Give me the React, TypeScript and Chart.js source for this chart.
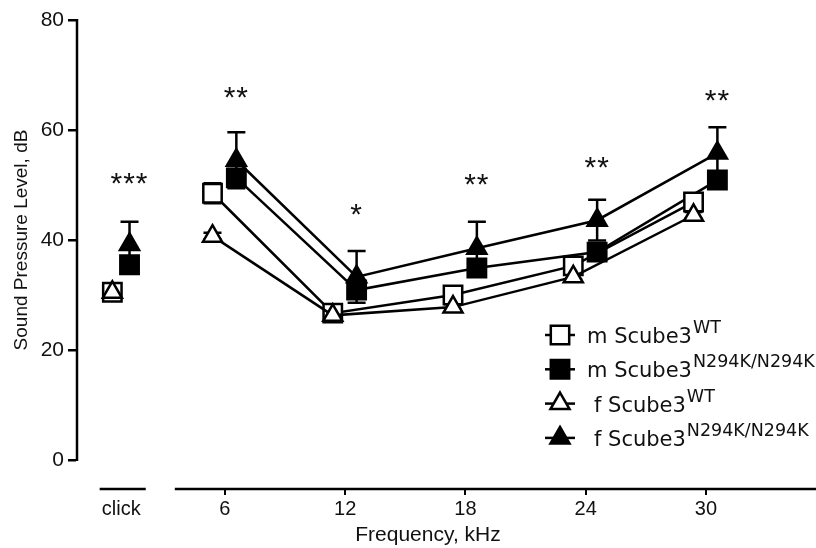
import React, { useEffect, useRef } from 'react';
import { Chart, registerables } from 'chart.js';

Chart.register(...registerables);

// ---------- data ----------
const categories = ['click', '6', '12', '18', '24', '30'];
const xPositions = [0.83, 6, 12, 18, 24, 30]; // position on the kHz axis ("click" sits left of the break)
const yTickValues = [0, 20, 40, 60, 80];

const mWT = [30.5, 48.5, 26.7, 30.0, 35.3, 46.9];
const mWTErr = [0.8, 1.8, 0.8, 0.8, 0.8, 1.0];
const mMut = [35.5, 51.3, 30.9, 34.9, 37.8, 50.9];
const mMutErr = [1.0, 1.6, 1.5, 1.0, 1.0, 1.5];
const fWT = [30.5, 40.7, 26.3, 27.8, 33.3, 44.5];
const fWTErr = [0.5, 0.6, 0.5, 0.5, 0.5, 0.6];
const fMut = [39.2, 54.5, 33.3, 38.5, 43.6, 55.8];
const fMutErr = [4.1, 5.1, 4.7, 4.8, 3.7, 4.7];

const sigMarks = ['***', '**', '*', '**', '**', '**'];
const sigLevels = [50.7, 66.4, 45.1, 50.5, 53.6, 65.8];

const seriesNames = ['m Scube3', 'm Scube3', 'f Scube3', 'f Scube3'];
const seriesSup = ['WT', 'N294K/N294K', 'WT', 'N294K/N294K'];

// ---------- style ----------
const WT_SHIFT = -0.62;
const MUT_SHIFT = 0.57;
const CLICK_SHIFT_FACTOR = 0.72;
const X_MIN = -1.43;
const X_MAX = 35.49;
const Y_MIN = -5.27;
const Y_MAX = 80;
const AX_FONT = '"Liberation Sans", Arial, sans-serif';
const LEG_FONT = '"DejaVu Sans", Verdana, sans-serif';
const INK = '#000';
const LW = 2.5;
const SQ_R = 13;
const TRI_R = 11;

const shiftAt = (i: number, s: number) => (i === 0 ? s * CLICK_SHIFT_FACTOR : s);

function makeSet(label: string, values: number[], errs: number[], shift: number, style: string, fill: string, order: number) {
  return {
    label,
    data: values.map((v, i) => ({ x: xPositions[i] + shiftAt(i, shift), y: v })),
    errors: errs,
    borderColor: INK,
    borderWidth: LW,
    pointStyle: style,
    pointRadius: style === 'rect' ? SQ_R : TRI_R,
    pointHoverRadius: style === 'rect' ? SQ_R : TRI_R,
    pointBackgroundColor: fill,
    pointBorderColor: INK,
    pointBorderWidth: LW,
    fill: false,
    tension: 0,
    order,
    segment: {
      borderColor: (ctx: any) => (ctx.p0DataIndex === 0 ? 'rgba(0,0,0,0)' : INK),
    },
  };
}

function drawMarker(ctx: CanvasRenderingContext2D, style: string, x: number, y: number, fill: string) {
  ctx.save();
  ctx.beginPath();
  if (style === 'rect') {
    const s = Math.SQRT1_2 * SQ_R;
    ctx.rect(x - s, y - s, 2 * s, 2 * s);
  } else {
    const r = TRI_R;
    ctx.moveTo(x, y - r);
    ctx.lineTo(x + 0.866 * r, y + 0.5 * r);
    ctx.lineTo(x - 0.866 * r, y + 0.5 * r);
    ctx.closePath();
  }
  ctx.fillStyle = fill;
  ctx.fill();
  ctx.lineWidth = LW;
  ctx.strokeStyle = INK;
  ctx.stroke();
  ctx.restore();
}

const errorBarPlugin = {
  id: 'errorBars',
  beforeDatasetsDraw(chart: any) {
    const { ctx, scales } = chart;
    const x = scales.x, y = scales.y;
    ctx.save();
    ctx.strokeStyle = INK;
    ctx.lineWidth = LW;
    chart.data.datasets.forEach((ds: any) => {
      ds.data.forEach((p: any, i: number) => {
        const e = ds.errors[i];
        const px = x.getPixelForValue(p.x);
        const t = y.getPixelForValue(p.y + e);
        const b = y.getPixelForValue(p.y - e);
        ctx.beginPath();
        ctx.moveTo(px, t);
        ctx.lineTo(px, b);
        ctx.moveTo(px - 9, t);
        ctx.lineTo(px + 9, t);
        ctx.moveTo(px - 9, b);
        ctx.lineTo(px + 9, b);
        ctx.stroke();
      });
    });
    ctx.restore();
  },
};

const decorPlugin = {
  id: 'decor',
  afterDraw(chart: any) {
    const { ctx, scales, chartArea } = chart;
    const x = scales.x, y = scales.y;
    ctx.save();
    ctx.strokeStyle = INK;
    ctx.lineWidth = LW;
    // y axis line from 0 to 80
    const ax = chartArea.left + 1;
    ctx.beginPath();
    ctx.moveTo(ax, y.getPixelForValue(0) + 1);
    ctx.lineTo(ax, y.getPixelForValue(80) - 1);
    ctx.stroke();
    // broken x axis
    const by = chartArea.bottom;
    ctx.beginPath();
    ctx.moveTo(x.getPixelForValue(-0.25), by);
    ctx.lineTo(x.getPixelForValue(2.05), by);
    ctx.moveTo(x.getPixelForValue(3.5), by);
    ctx.lineTo(x.getPixelForValue(X_MAX), by);
    ctx.stroke();

    // axis titles
    ctx.fillStyle = '#111';
    ctx.font = `21px ${AX_FONT}`;
    ctx.textAlign = 'center';
    ctx.textBaseline = 'middle';
    ctx.fillText('Frequency, kHz', 428, 535);
    ctx.save();
    ctx.translate(22, y.getPixelForValue(40));
    ctx.rotate(-Math.PI / 2);
    ctx.font = `19px ${AX_FONT}`;
    ctx.fillText('Sound Pressure Level, dB', 0, 0);
    ctx.restore();

    // significance marks
    ctx.fillStyle = '#111';
    ctx.font = `30px ${AX_FONT}`;
    (ctx as any).letterSpacing = '1px';
    ctx.textAlign = 'center';
    ctx.textBaseline = 'alphabetic';
    sigMarks.forEach((m, i) => {
      const px = x.getPixelForValue(xPositions[i] + shiftAt(i, MUT_SHIFT));
      const py = y.getPixelForValue(sigLevels[i]) + 12;
      ctx.fillText(m, px, py);
    });
    (ctx as any).letterSpacing = '0px';

    // legend
    const styles = ['rect', 'rect', 'triangle', 'triangle'];
    const fills = ['#fff', INK, '#fff', INK];
    const textX = [587, 587, 594, 594];
    ctx.textAlign = 'left';
    ctx.textBaseline = 'alphabetic';
    for (let i = 0; i < 4; i++) {
      const ry = 335 + i * 34.3;
      ctx.beginPath();
      ctx.lineWidth = LW;
      ctx.moveTo(545, ry);
      ctx.lineTo(575, ry);
      ctx.stroke();
      drawMarker(ctx, styles[i], 560, ry, fills[i]);
      ctx.fillStyle = '#111';
      ctx.font = `21px ${LEG_FONT}`;
      const base = ry + 8;
      ctx.fillText(seriesNames[i], textX[i], base);
      const w = ctx.measureText(seriesNames[i]).width;
      ctx.font = `17.5px ${LEG_FONT}`;
      ctx.fillText(seriesSup[i], textX[i] + w + 1, base - 10);
    }
    ctx.restore();
  },
};

export default function App() {
  const ref = useRef<HTMLCanvasElement | null>(null);

  useEffect(() => {
    if (!ref.current) return;
    const chart = new Chart(ref.current, {
      type: 'line',
      data: {
        datasets: [
          makeSet(seriesNames[0] + seriesSup[0], mWT, mWTErr, WT_SHIFT, 'rect', '#fff', 2),
          makeSet(seriesNames[1] + seriesSup[1], mMut, mMutErr, MUT_SHIFT, 'rect', INK, 2),
          makeSet(seriesNames[2] + seriesSup[2], fWT, fWTErr, WT_SHIFT, 'triangle', '#fff', 1),
          makeSet(seriesNames[3] + seriesSup[3], fMut, fMutErr, MUT_SHIFT, 'triangle', INK, 1),
        ] as any,
      },
      options: {
        animation: false,
        responsive: true,
        maintainAspectRatio: false,
        layout: { autoPadding: false, padding: { top: 20, right: 0, bottom: 0, left: 0 } },
        plugins: {
          legend: { display: false },
          tooltip: { enabled: false },
          title: { display: false },
        },
        scales: {
          x: {
            type: 'linear',
            min: X_MIN,
            max: X_MAX,
            afterBuildTicks: (scale: any) => {
              scale.ticks = xPositions.map((v) => ({ value: v }));
            },
            afterFit: (scale: any) => {
              scale.height = 59;
              scale.paddingLeft = 0;
              scale.paddingRight = 0;
            },
            border: { display: false },
            grid: {
              drawOnChartArea: false,
              drawTicks: true,
              tickLength: 6,
              lineWidth: 2,
              tickColor: (ctx: any) => (ctx.index === 0 ? 'rgba(0,0,0,0)' : INK),
            },
            ticks: {
              autoSkip: false,
              maxRotation: 0,
              padding: 2,
              color: '#111',
              font: { family: AX_FONT, size: 20 },
              callback: (_v: any, i: number) => categories[i],
            },
          },
          y: {
            type: 'linear',
            min: Y_MIN,
            max: Y_MAX,
            afterBuildTicks: (scale: any) => {
              scale.ticks = yTickValues.map((v) => ({ value: v }));
            },
            afterFit: (scale: any) => {
              scale.width = 76;
            },
            border: { display: false },
            grid: {
              drawOnChartArea: false,
              drawTicks: true,
              tickLength: 8,
              lineWidth: 2.5,
              tickColor: INK,
            },
            ticks: {
              padding: 4,
              color: '#111',
              font: { family: AX_FONT, size: 21 },
              callback: (v: any) => String(v),
            },
          },
        },
      },
      plugins: [errorBarPlugin, decorPlugin],
    } as any);
    return () => chart.destroy();
  }, []);

  return (
    <div style={{ position: 'fixed', left: 0, top: 0, width: 816, height: 548, background: '#fff' }}>
      <canvas ref={ref} />
    </div>
  );
}
